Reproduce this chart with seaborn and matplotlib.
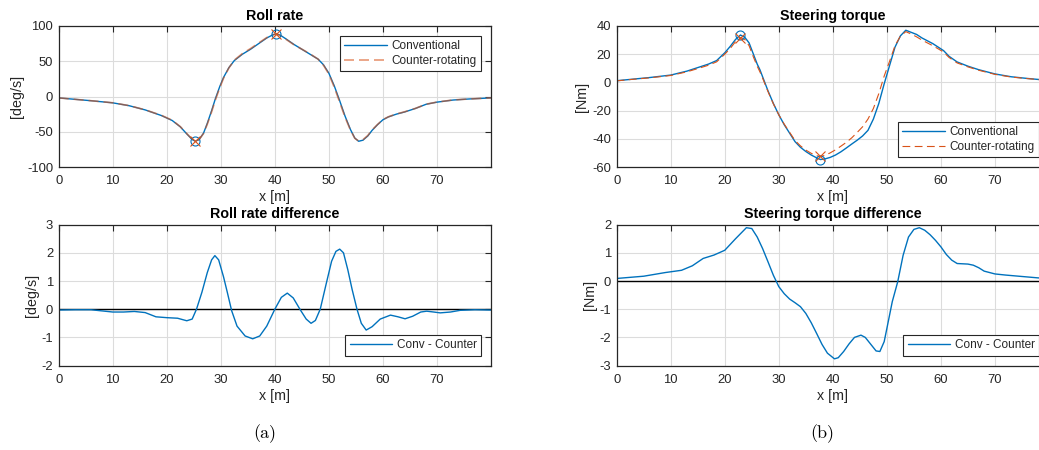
import matplotlib
matplotlib.use('Agg')
import matplotlib.pyplot as plt
import seaborn as sns
import numpy as np

# ---- data ----
roll_x = [0, 3, 6, 10, 13, 16, 19, 21, 22.5, 23.7, 24.7, 25.3, 26, 26.8, 27.5, 28.3, 29, 29.8,
          30.5, 31.5, 32.5, 34, 35.5, 37, 38.5, 39.5, 40.2, 41, 42, 43.5, 45, 46.5, 48, 49, 50,
          51, 52, 53, 54, 54.8, 55.5, 56.3, 57.2, 58, 59, 60, 61, 62.5, 64, 66, 68, 70, 73, 76, 80]
roll_conv = [-2, -4, -6, -9, -13, -19, -27, -34, -43, -53, -61, -63.5, -61, -52, -38, -20, -3, 14,
             27, 41, 51, 60, 67, 75, 83, 87, 89, 87, 82, 74, 67, 60, 53, 45, 33,
             15, -6, -28, -47, -59, -63.5, -62, -56, -48, -40, -33, -29, -25, -22, -17, -11, -8, -5, -3.5, -2]
roll_counter = [-2, -4, -6, -8.9, -12.9, -18.9, -26.7, -33.7, -42.7, -52.6, -60.6, -63.4, -61, -52.5, -39.3, -21.7, -4.9, 12.3,
                25.8, 40.6, 51.6, 61, 68, 75.9, 83.6, 87.2, 88.7, 86.5, 81.4, 73.6, 67.1, 60.5, 53, 44.3, 31.8,
                13.1, -8.1, -29.6, -47.8, -59.3, -63.1, -61.3, -55.3, -47.4, -39.7, -32.8, -28.8, -24.8, -21.7, -16.9, -10.9, -7.9, -4.9, -3.5, -2]

rdiff_x = [0, 3, 6, 8, 10, 12, 14, 16, 18, 20, 22, 23.7, 24.7, 25.5, 26.5, 27.5, 28.3, 28.9, 29.6, 30.5,
           31.2, 32, 33, 34.5, 35.9, 37.2, 38.5, 40, 41.2, 42.3, 43.4, 44.7, 45.8, 46.7, 47.5, 48.4,
           49.5, 50.5, 51.3, 52, 52.7, 53.5, 54.3, 55.2, 56, 56.9, 58, 59.5, 61.4, 62.8, 64.1, 65.5,
           67, 68.1, 69.4, 70.6, 72.5, 74.3, 77, 80]
rdiff_y = [-0.03, -0.02, -0.02, -0.06, -0.1, -0.1, -0.08, -0.12, -0.27, -0.3, -0.32, -0.41, -0.35, 0.0, 0.6, 1.3, 1.75, 1.9, 1.75, 1.15,
           0.6, -0.05, -0.6, -0.95, -1.05, -0.95, -0.6, 0.0, 0.42, 0.57, 0.4, -0.02, -0.35, -0.5, -0.4, 0.0,
           0.9, 1.7, 2.05, 2.13, 2.0, 1.4, 0.7, 0.0, -0.5, -0.74, -0.62, -0.35, -0.21, -0.27, -0.34, -0.25,
           -0.1, -0.07, -0.1, -0.13, -0.1, -0.04, -0.02, -0.03]

steer_x = [0, 3, 6, 10, 13, 15, 17, 18.5, 20, 21, 22, 22.9, 23.7, 24.5, 25.3, 26, 26.5, 27, 28, 29, 30,
           31, 32, 33, 34, 35, 36, 37, 37.7, 38.5, 39.5, 40.5, 41.5, 42.5, 43.5, 44.5, 45.5, 46.5, 47.5,
           48.5, 49.5, 50.5, 51.5, 52.5, 53.5, 54.5, 55.5, 56.5, 57.5, 58.5, 59.5, 60.5, 61.5, 63, 65,
           67, 70, 73, 76, 78, 80]
steer_conv = [1.2, 2.3, 3.4, 5.2, 8, 10.5, 13, 15.5, 21, 25.5, 30.5, 33.6, 32, 28, 20, 13, 9, 4, -6, -15, -23,
              -30, -36, -42, -46, -49, -51.5, -53.5, -54.7, -54.3, -53.2, -51.5, -49.2, -46.5, -43.7, -41, -38, -34, -26,
              -15, -1, 12, 25, 33, 37, 35.5, 34, 31.5, 29.5, 27.5, 25, 22.5, 18.5, 14.5, 11.5,
              9, 6, 4, 2.8, 2.1, 1.8]
steer_counter = [1.1, 2.2, 3.2, 4.9, 7.5, 9.8, 12.2, 14.6, 20, 24, 29, 31.8, 30.5, 26, 18, 11.5, 7.5, 3, -6.5, -15.3, -23,
                 -29.6, -35.4, -41.2, -45, -48, -50.3, -52, -52.5, -51.8, -50, -47.8, -45.2, -42.5, -39.3, -35.5, -31.5, -26, -18.5,
                 -8, 4.5, 15, 26, 32.8, 36, 34.3, 32.3, 30, 28, 26, 23.8, 21.5, 17.7, 13.8, 11,
                 8.6, 5.7, 3.8, 2.7, 2.0, 1.7]

sdiff_x = [0, 5, 9, 12, 14, 16, 18, 20, 22, 24, 25, 26, 27, 28, 29, 30, 31, 32, 33, 34, 35, 36, 37, 38,
           39, 40.3, 41, 42, 43, 44, 45.2, 46, 47, 48, 48.7, 49.5, 50, 51, 52, 53, 54, 55, 56, 57, 58,
           59, 60, 61, 62, 63, 65, 66, 67, 68, 70, 72, 75, 78, 80]
sdiff_y = [0.09, 0.17, 0.3, 0.38, 0.54, 0.8, 0.92, 1.09, 1.5, 1.89, 1.86, 1.56, 1.15, 0.68, 0.2, -0.2, -0.45, -0.64, -0.77, -0.91, -1.15, -1.48, -1.86, -2.25,
           -2.56, -2.76, -2.72, -2.5, -2.23, -2.0, -1.92, -2.0, -2.24, -2.48, -2.5, -2.15, -1.68, -0.73, -0.03, 0.91, 1.56, 1.83, 1.89, 1.8, 1.64,
           1.44, 1.21, 0.94, 0.74, 0.62, 0.6, 0.56, 0.47, 0.35, 0.25, 0.21, 0.16, 0.11, 0.1]

ml_blue = '#0072BD'
ml_orange = '#D95319'
txt = '#262626'
fs_tick = 9.4     # axes font
fs_lab = 10.3     # labels / title (x1.1)
fs_leg = 8.5      # legend (x0.9)

sns.set_style('whitegrid')
plt.rcParams['font.family'] = ['Liberation Sans', 'DejaVu Sans']
plt.rcParams['font.size'] = fs_tick
plt.rcParams['axes.unicode_minus'] = False
plt.rcParams['text.color'] = txt
plt.rcParams['axes.labelcolor'] = txt
plt.rcParams['xtick.color'] = txt
plt.rcParams['ytick.color'] = txt

fig = plt.figure(figsize=(10.39, 4.5), dpi=100)
W, H = 1039, 450


def make_ax(left, top, width=432.3, height=141.0):
    return fig.add_axes([left / W, 1 - (top + height) / H, width / W, height / H])


def style(ax, title, ylab, ylim, yticks):
    ax.set_xlim(0, 80)
    ax.set_ylim(ylim)
    ax.set_xticks(np.arange(0, 71, 10))
    ax.set_yticks(yticks)
    ax.grid(True, color='#dcdcdc', lw=0.8)
    for s in ax.spines.values():
        s.set_color(txt)
        s.set_linewidth(0.9)
        s.set_visible(True)
    ax.tick_params(direction='in', length=4, width=0.8, top=True, right=True,
                   labelsize=fs_tick, colors=txt)
    ax.tick_params(axis='x', pad=6)
    ax.tick_params(axis='y', pad=4)
    ax.set_title(title, fontsize=fs_lab, fontweight='bold', pad=4.5, color='black')
    ax.set_xlabel('x [m]', fontsize=fs_lab, labelpad=2)
    ax.set_ylabel(ylab, fontsize=fs_lab, labelpad=2)


def legend(ax, loc):
    lg = ax.legend(loc=loc, fontsize=fs_leg, handlelength=3.6, frameon=True, fancybox=False,
                   framealpha=1, borderaxespad=0.85, borderpad=0.35, labelspacing=0.25,
                   handletextpad=0.4)
    lg.get_frame().set_edgecolor(txt)
    lg.get_frame().set_linewidth(0.8)
    for t in lg.get_texts():
        t.set_color(txt)


def mark_extrema(ax, xs, arr, col, mk, first_half=False):
    xs = np.asarray(xs)
    arr = np.asarray(arr)
    sel = xs < 30 if first_half else np.ones(len(xs), bool)
    i_max = np.flatnonzero(sel)[np.argmax(arr[sel])]
    i_min = int(np.argmin(arr))
    ax.plot([xs[i_min], xs[i_max]], [arr[i_min], arr[i_max]], ls='none', marker=mk,
            mfc='none', mec=col, ms=6.5, mew=0.8)


# ---- Roll rate ----
ax1 = make_ax(58.7, 26)
sns.lineplot(x=roll_x, y=roll_conv, ax=ax1, color=ml_blue, lw=1.0, label='Conventional')
sns.lineplot(x=roll_x, y=roll_counter, ax=ax1, color=ml_orange, lw=1.2, alpha=0.6,
             label='Counter-rotating', linestyle=(0, (6, 3)))
mark_extrema(ax1, roll_x, roll_conv, ml_blue, 'o')
mark_extrema(ax1, roll_x, roll_counter, ml_orange, 'x')
style(ax1, 'Roll rate', '[deg/s]', (-100, 100), np.arange(-100, 101, 50))
legend(ax1, 'upper right')

# ---- Steering torque ----
ax2 = make_ax(616.7, 26)
sns.lineplot(x=steer_x, y=steer_conv, ax=ax2, color=ml_blue, lw=1.0, label='Conventional')
sns.lineplot(x=steer_x, y=steer_counter, ax=ax2, color=ml_orange, lw=0.8,
             label='Counter-rotating', linestyle=(0, (7, 4)))
mark_extrema(ax2, steer_x, steer_conv, ml_blue, 'o', first_half=True)
mark_extrema(ax2, steer_x, steer_counter, ml_orange, 'x', first_half=True)
style(ax2, 'Steering torque', '[Nm]', (-60, 40), np.arange(-60, 41, 20))
legend(ax2, 'lower right')

# ---- Roll rate difference ----
ax3 = make_ax(58.7, 224.6)
ax3.axhline(0, color='black', lw=1.0)
sns.lineplot(x=rdiff_x, y=rdiff_y, ax=ax3, color=ml_blue, lw=1.0, label='Conv - Counter')
style(ax3, 'Roll rate difference', '[deg/s]', (-2, 3), np.arange(-2, 4, 1))
legend(ax3, 'lower right')

# ---- Steering torque difference ----
ax4 = make_ax(616.7, 224.6)
ax4.axhline(0, color='black', lw=1.0)
sns.lineplot(x=sdiff_x, y=sdiff_y, ax=ax4, color=ml_blue, lw=1.0, label='Conv - Counter')
style(ax4, 'Steering torque difference', '[Nm]', (-3, 2), np.arange(-3, 3, 1))
legend(ax4, 'lower right')

# sub-captions
fig.text(265 / W, 1 - 434 / H, '(a)', family='cmr10', fontsize=13, ha='center', va='center', color='black')
fig.text(822 / W, 1 - 434 / H, '(b)', family='cmr10', fontsize=13, ha='center', va='center', color='black')

fig.savefig('out.png', dpi=100)
